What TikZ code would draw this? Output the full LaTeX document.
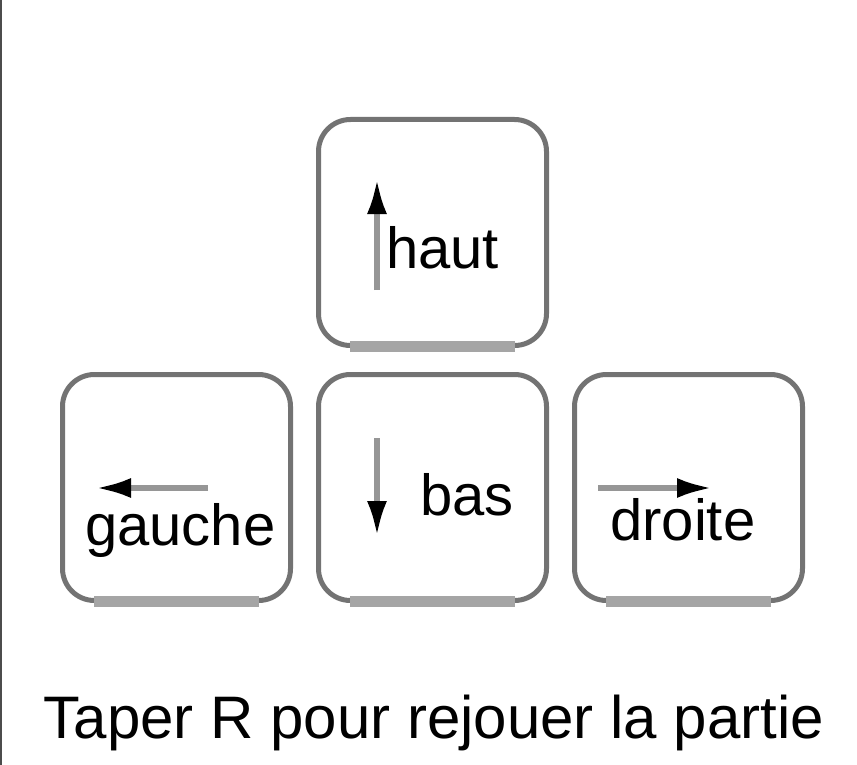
\documentclass[tikz,border=0pt]{standalone}
\usepackage{fontspec}
\setmainfont{Liberation Sans}
\usepackage{tikz}
\usetikzlibrary{arrows.meta, positioning}
\definecolor{keyedge}{RGB}{115,115,115}
\definecolor{keylip}{RGB}{165,165,165}
\definecolor{shaftgray}{RGB}{150,150,150}

\begin{document}
\begin{tikzpicture}[x=1pt, y=-1pt,
    keycap/.style={rectangle, draw=keyedge, line width=5pt, rounded corners=32pt, minimum width=228pt, minimum height=226pt, inner sep=0pt},
    lip/.style={draw=keylip, line width=11pt},
    keyarrow/.style={draw=shaftgray, line width=6pt, -{Latex[length=36pt, width=20pt, color=black]}},
    keylabel/.style={anchor=base west, inner sep=0pt, font=\fontsize{58}{60}\selectfont}
]
\useasboundingbox (0,0) rectangle (857,765);
\draw[black!70, line width=1.5pt] (1,0) -- (1,765);

\node[keycap] (H) at (432.5,232.5) {};
\node[keycap] (G) at (176.5,487.5) {};
\node[keycap] (B) at (432.5,487.5) {};
\node[keycap] (D) at (688.5,487.5) {};

\foreach \k in {H,G,B,D}
  \draw[lip] ([xshift=34pt, yshift=1.5pt]\k.south west) -- ([xshift=-34pt, yshift=1.5pt]\k.south east);

\coordinate (H1) at (377,290);
\coordinate (H2) at (377,178);
\coordinate (B1) at (377,438);
\coordinate (B2) at (377,537);
\coordinate (G1) at (208,488);
\coordinate (G2) at (95,488);
\coordinate (D1) at (598,488);
\coordinate (D2) at (713,488);

\draw[keyarrow] (H1) -- (H2);
\draw[keyarrow] (B1) -- (B2);
\draw[keyarrow] (G1) -- (G2);
\draw[keyarrow] (D1) -- (D2);

\node[keylabel] (haut) at (386,268) {haut};
\node[keylabel] (bas) at (420,515) {bas};
\node[keylabel] (gauche) at (85,545) {gauche};
\node[keylabel] (droite) at (610,540) {droite};

\node[anchor=base, inner sep=0pt, font=\fontsize{60}{62}\selectfont] (rejouer) at (434,738) {Taper R pour rejouer la partie};
\end{tikzpicture}
\end{document}
